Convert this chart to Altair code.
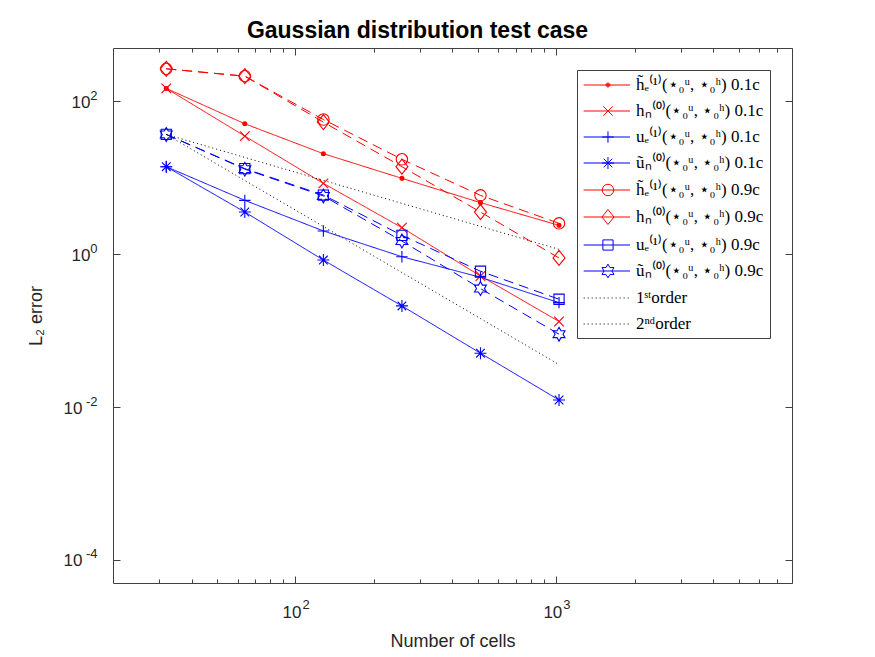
import math

import altair as alt
import pandas as pd

# ---- data -------------------------------------------------------------
cells = [32, 64, 128, 256, 512, 1024]

h_e1_01 = [148.0, 51.0, 20.7, 9.85, 4.74, 2.39]
h_n0_01 = [148.0, 35.2, 8.47, 2.23, 0.52, 0.132]
u_e1_01 = [14.0, 5.08, 2.02, 0.93, 0.50, 0.233]
u_n0_01 = [14.0, 3.57, 0.84, 0.211, 0.0508, 0.0124]
h_e1_09 = [267.0, 214.0, 58.0, 17.5, 5.9, 2.54]
h_n0_09 = [267.0, 214.0, 53.6, 14.0, 3.57, 0.895]
u_e1_09 = [37.0, 13.2, 5.96, 1.77, 0.60, 0.258]
u_n0_09 = [37.0, 13.0, 5.8, 1.49, 0.356, 0.090]

ref_cells = [32, 1024]
first_order = [37.0, 1.16]
second_order = [37.0, 0.036]

series_names = [
    "h̃ₑ⁽¹⁾(⋆₀ᵘ, ⋆₀ʰ) 0.1c",
    "hₙ⁽⁰⁾(⋆₀ᵘ, ⋆₀ʰ) 0.1c",
    "uₑ⁽¹⁾(⋆₀ᵘ, ⋆₀ʰ) 0.1c",
    "ũₙ⁽⁰⁾(⋆₀ᵘ, ⋆₀ʰ) 0.1c",
    "h̃ₑ⁽¹⁾(⋆₀ᵘ, ⋆₀ʰ) 0.9c",
    "hₙ⁽⁰⁾(⋆₀ᵘ, ⋆₀ʰ) 0.9c",
    "uₑ⁽¹⁾(⋆₀ᵘ, ⋆₀ʰ) 0.9c",
    "ũₙ⁽⁰⁾(⋆₀ᵘ, ⋆₀ʰ) 0.9c",
    "1ˢᵗorder",
    "2ⁿᵈorder",
]
series_values = [h_e1_01, h_n0_01, u_e1_01, u_n0_01,
                 h_e1_09, h_n0_09, u_e1_09, u_n0_09]

rows = []
for name, vals in zip(series_names[:8], series_values):
    for c, v in zip(cells, vals):
        rows.append({"cells": c, "err": v, "series": name})
for name, vals in zip(series_names[8:], [first_order, second_order]):
    for c, v in zip(ref_cells, vals):
        rows.append({"cells": c, "err": v, "series": name})
df = pd.DataFrame(rows)

# ---- styling ----------------------------------------------------------
RED, BLUE, BLACK = "#ff0000", "#0000ff", "#000000"
FRAME = "#404040"
TEXT = "#262626"
series_colors = [RED, RED, BLUE, BLUE, RED, RED, BLUE, BLUE, BLACK, BLACK]
series_dash = [[1, 0]] * 4 + [[10, 6]] * 4 + [[1, 3]] * 2


def circle(cx, r):
    return (f"M{cx + r:.3f},0A{r:.3f},{r:.3f} 0 1,0 {cx - r:.3f},0"
            f"A{r:.3f},{r:.3f} 0 1,0 {cx + r:.3f},0")


def marker(kind, cx=0.0, s=1.0):
    """Marker outline in symbol units (1 unit = sqrt(size)/2 px), scaled by s."""
    if kind == "dot":
        return circle(cx, 0.33 * s) + circle(cx, 0.2 * s) + circle(cx, 0.08 * s)
    if kind == "x":
        a = 0.8 * s
        return f"M{cx - a:.3f},{-a:.3f}L{cx + a:.3f},{a:.3f}M{cx - a:.3f},{a:.3f}L{cx + a:.3f},{-a:.3f}"
    if kind == "plus":
        a = 0.95 * s
        return f"M{cx - a:.3f},0H{cx + a:.3f}M{cx:.3f},{-a:.3f}V{a:.3f}"
    if kind == "star":
        a, d = 1.0 * s, 0.72 * s
        return (f"M{cx - a:.3f},0H{cx + a:.3f}M{cx:.3f},{-a:.3f}V{a:.3f}"
                f"M{cx - d:.3f},{-d:.3f}L{cx + d:.3f},{d:.3f}"
                f"M{cx - d:.3f},{d:.3f}L{cx + d:.3f},{-d:.3f}")
    if kind == "circle":
        return circle(cx, 0.95 * s)
    if kind == "diamond":
        h, w = 1.25 * s, 1.0 * s
        return f"M{cx:.3f},{-h:.3f}L{cx + w:.3f},0L{cx:.3f},{h:.3f}L{cx - w:.3f},0Z"
    if kind == "square":
        a = 0.85 * s
        return f"M{cx - a:.3f},{-a:.3f}H{cx + a:.3f}V{a:.3f}H{cx - a:.3f}Z"
    if kind == "hexagram":
        R = 1.15 * s
        r = R / 3 ** 0.5
        pts = []
        for k in range(12):
            ang = math.radians(-90 + 30 * k)
            rad = R if k % 2 == 0 else r
            pts.append((cx + rad * math.cos(ang), rad * math.sin(ang)))
        return "M" + "L".join(f"{x:.3f},{y:.3f}" for x, y in pts) + "Z"
    return ""


marker_kinds = ["dot", "x", "plus", "star", "circle", "diamond", "square", "hexagram"]
POINT_SIZE = 144          # 1 unit = 6 px
point_shapes = [marker(k) for k in marker_kinds]

# legend glyphs: short line with the marker in the middle (1 unit = 8.5 px)
LEGEND_SIZE = 289
S = 6 / 8.5
L0, L1, MC = -0.98, 4.47, 1.88
legend_shapes = [f"M{L0},0H{L1}" + marker(k, MC, S) for k in marker_kinds]
dots = "".join(f"M{L0 + 0.47 * i:.3f},0h0.12" for i in range(12))
legend_shapes += [dots, dots]

X_SCALE = alt.Scale(type="log", domain=[20, 8000], nice=False)
Y_SCALE = alt.Scale(type="log", domain=[5e-5, 500], nice=False)

x_enc_none = alt.X("cells:Q", scale=X_SCALE, axis=None)
y_enc_none = alt.Y("err:Q", scale=Y_SCALE, axis=None)

# ---- data layers ------------------------------------------------------
lines = alt.Chart(df).mark_line(strokeWidth=1).encode(
    x=x_enc_none,
    y=y_enc_none,
    color=alt.Color("series:N", scale=alt.Scale(domain=series_names, range=series_colors), legend=None),
    strokeDash=alt.StrokeDash("series:N", scale=alt.Scale(domain=series_names, range=series_dash), legend=None),
)

points = alt.Chart(df).transform_filter(
    alt.FieldOneOfPredicate(field="series", oneOf=series_names[:8])
).mark_point(filled=False, size=POINT_SIZE, strokeWidth=1.1, opacity=1).encode(
    x=x_enc_none,
    y=y_enc_none,
    color=alt.Color("series:N", scale=alt.Scale(domain=series_names[:8], range=series_colors[:8]), legend=None),
    shape=alt.Shape("series:N", scale=alt.Scale(domain=series_names[:8], range=point_shapes), legend=None),
)

legend_props = dict(
    title=None, orient="top-right", offset=22, padding=6,
    fillColor="white", strokeColor=FRAME,
    labelFont="Liberation Serif", labelFontSize=17, labelColor="black",
    labelOffset=35, labelLimit=400, rowPadding=9,
    symbolSize=LEGEND_SIZE, symbolStrokeWidth=1,
)

legend_layer = alt.Chart(df).transform_filter("false").mark_point(
    filled=False, size=LEGEND_SIZE, opacity=1
).encode(
    x=x_enc_none,
    y=y_enc_none,
    stroke=alt.Stroke("series:N", scale=alt.Scale(domain=series_names, range=series_colors),
                      legend=alt.Legend(**legend_props)),
    shape=alt.Shape("series:N", scale=alt.Scale(domain=series_names, range=legend_shapes),
                    legend=alt.Legend(**legend_props)),
)

# ---- axes (ticks drawn inward; "10" and its exponent as two label sets) --
base_label = "'10'"
exp_label = "toString(round(log(datum.value)/LN10))"

tick_style = dict(domain=False, grid=False, tickColor=FRAME, tickWidth=1)
x_major = [100, 1000]
x_minor = [30, 40, 50, 60, 70, 80, 90,
           200, 300, 400, 500, 600, 700, 800, 900,
           2000, 3000, 4000, 5000, 6000, 7000, 8000]
y_major = [1e-4, 1e-2, 1, 100]
y_major_pos = [1, 100]
y_major_neg = [1e-4, 1e-2]


def axis_layer(xaxis=None, yaxis=None):
    return alt.Chart(df).transform_filter("false").mark_point(opacity=1).encode(
        x=alt.X("cells:Q", scale=X_SCALE, axis=xaxis),
        y=alt.Y("err:Q", scale=Y_SCALE, axis=yaxis),
    )


ax_bottom = axis_layer(xaxis=alt.Axis(
    orient="bottom", values=x_major, tickSize=7, offset=-7,
    labelExpr=base_label, labelFont="Liberation Sans", labelFontSize=17,
    labelColor=TEXT, labelPadding=21, labelBaseline="top", labelAlign="center",
    labelOffset=-4,
    title="Number of cells", titleFont="Liberation Sans", titleFontSize=18,
    titleFontWeight="normal", titleColor=TEXT, titlePadding=12,
    **tick_style))
ax_bottom_exp = axis_layer(xaxis=alt.Axis(
    orient="bottom", values=x_major, tickSize=7, offset=-7, tickOpacity=0,
    labelExpr=exp_label, labelFont="Liberation Sans", labelFontSize=13,
    labelColor=TEXT, labelPadding=15, labelBaseline="top", labelAlign="left",
    labelOffset=6.5, title=None, **tick_style))
ax_bottom_minor = axis_layer(xaxis=alt.Axis(
    orient="bottom", values=x_minor, tickSize=4, offset=-4, labels=False,
    title=None, **tick_style))
ax_top = axis_layer(xaxis=alt.Axis(
    orient="top", values=x_major, tickSize=7, offset=-7, labels=False,
    title=None, **tick_style))
ax_top_minor = axis_layer(xaxis=alt.Axis(
    orient="top", values=x_minor, tickSize=4, offset=-4, labels=False,
    title=None, **tick_style))
ax_left_neg = axis_layer(yaxis=alt.Axis(
    orient="left", values=y_major_neg, tickSize=7, offset=-7,
    labelExpr=base_label, labelFont="Liberation Sans", labelFontSize=17,
    labelColor=TEXT, labelPadding=31, labelAlign="right", labelBaseline="middle",
    labelOffset=1,
    title="L₂ error", titleFont="Liberation Sans", titleFontSize=18,
    titleFontWeight="normal", titleColor=TEXT, titlePadding=18,
    **tick_style))
ax_left_pos = axis_layer(yaxis=alt.Axis(
    orient="left", values=y_major_pos, tickSize=7, offset=-7,
    labelExpr=base_label, labelFont="Liberation Sans", labelFontSize=17,
    labelColor=TEXT, labelPadding=23, labelAlign="right", labelBaseline="middle",
    labelOffset=1, title=None, **tick_style))
ax_left_exp = axis_layer(yaxis=alt.Axis(
    orient="left", values=y_major, tickSize=7, offset=-7, tickOpacity=0,
    labelExpr=exp_label, labelFont="Liberation Sans", labelFontSize=13,
    labelColor=TEXT, labelPadding=16, labelAlign="right", labelBaseline="middle",
    labelOffset=-6, title=None, **tick_style))
ax_right = axis_layer(yaxis=alt.Axis(
    orient="right", values=y_major, tickSize=7, offset=-7, labels=False,
    title=None, **tick_style))

chart = alt.layer(
    legend_layer, lines, points,
    ax_bottom, ax_bottom_exp, ax_bottom_minor, ax_top, ax_top_minor,
    ax_left_neg, ax_left_pos, ax_left_exp, ax_right,
).resolve_scale(
    color="independent", stroke="independent", shape="independent",
    strokeDash="independent"
).resolve_axis(
    x="independent", y="independent"
).properties(
    width=679, height=535,
    padding={"left": 113, "top": 48, "right": 83, "bottom": 74},
    autosize=alt.AutoSizeParams(type="none"),
    title=alt.TitleParams(
        "Gaussian distribution test case", font="Liberation Sans",
        fontSize=23, fontWeight="bold", color="black", dx=-35, offset=5,
    ),
).configure_view(stroke=FRAME, strokeWidth=1)

chart.save("out.html", embed_options={"renderer": "svg", "actions": False})
